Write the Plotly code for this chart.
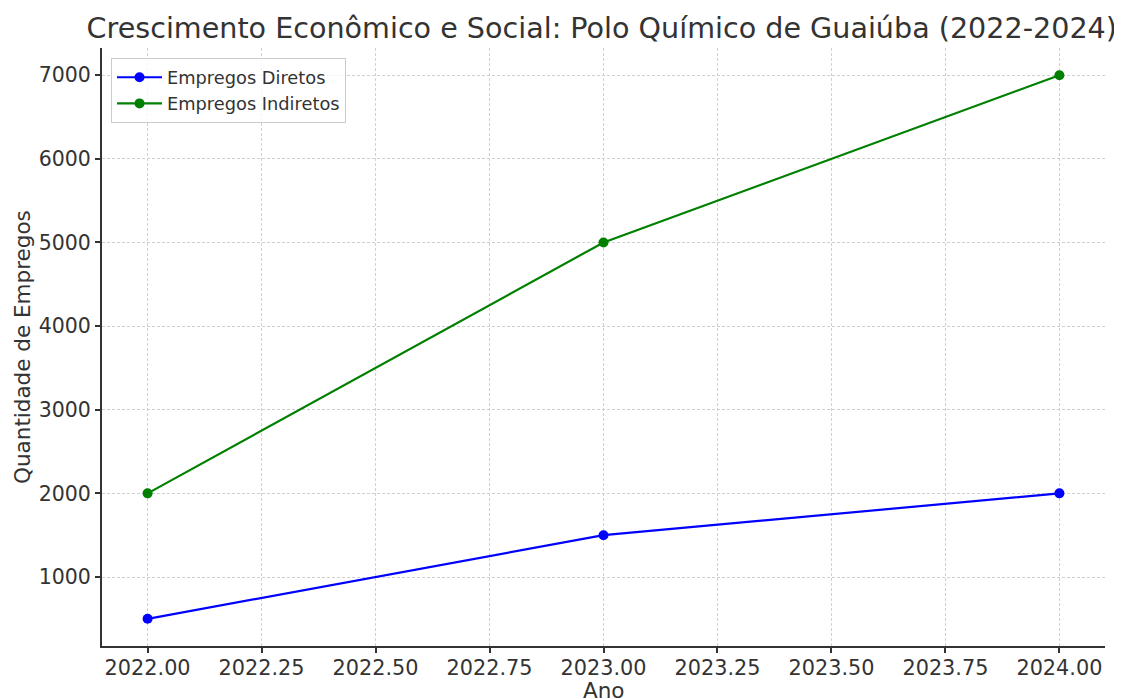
import plotly.graph_objects as go

anos = [2022, 2023, 2024]
empregos_diretos = [500, 1500, 2000]
empregos_indiretos = [2000, 5000, 7000]
x_ticks = [2022.0, 2022.25, 2022.5, 2022.75, 2023.0, 2023.25, 2023.5, 2023.75, 2024.0]
y_ticks = [1000, 2000, 3000, 4000, 5000, 6000, 7000]

FONT = "DejaVu Sans"
TXT = "#333333"
GRID = "#d0d0d0"

fig = go.Figure()
fig.add_trace(go.Scatter(x=anos, y=empregos_diretos, mode="lines+markers", name="Empregos Diretos",
                         line=dict(color="blue", width=2.2), marker=dict(size=10, color="blue")))
fig.add_trace(go.Scatter(x=anos, y=empregos_indiretos, mode="lines+markers", name="Empregos Indiretos",
                         line=dict(color="green", width=2.2), marker=dict(size=10, color="green")))

fig.update_layout(
    width=1114, height=691,
    margin=dict(l=94, r=17, t=40, b=53, autoexpand=False),
    paper_bgcolor="white", plot_bgcolor="white",
    font=dict(family=FONT, color=TXT),
    title=dict(text="Crescimento Econômico e Social: Polo Químico de Guaiúba (2022-2024)",
               x=0.5330, xanchor="center", y=0.9711, yanchor="middle",
               font=dict(size=28.6, color=TXT, family=FONT)),
    legend=dict(x=0.009, y=0.983, xanchor="left", yanchor="top",
                bgcolor="rgba(255,255,255,0.8)", bordercolor="#cccccc", borderwidth=1,
                itemwidth=45,
                font=dict(size=17.8, color=TXT, family=FONT)),
    showlegend=True,
)
fig.update_xaxes(
    range=[2021.9, 2024.1], tickvals=x_ticks, ticktext=[f"{v:.2f}" for v in x_ticks],
    showgrid=True, gridcolor=GRID, griddash="3px,2px", gridwidth=1,
    showline=True, linecolor="#333333", linewidth=2, mirror=False,
    ticks="outside", ticklen=5, tickcolor="#333333", tickwidth=1.5, ticklabelstandoff=-3,
    tickfont=dict(size=20.8, color=TXT), zeroline=False, automargin=False,
)
fig.update_yaxes(
    range=[175, 7325], tickvals=y_ticks,
    showgrid=True, gridcolor=GRID, griddash="3px,2px", gridwidth=1,
    showline=True, linecolor="#333333", linewidth=2, mirror=False,
    ticks="outside", ticklen=5, tickcolor="#333333", tickwidth=1.5,
    tickfont=dict(size=20.5, color=TXT), zeroline=False, automargin=False,
)
fig.add_annotation(text="Ano", xref="paper", yref="paper", x=0.5, y=-0.0736,
                   xanchor="center", yanchor="middle", showarrow=False,
                   font=dict(size=21.5, color=TXT, family=FONT))
fig.add_annotation(text="Quantidade de Empregos", xref="paper", yref="paper", x=-0.0798, y=0.5,
                   xanchor="center", yanchor="middle", showarrow=False, textangle=-90,
                   font=dict(size=21.5, color=TXT, family=FONT))

fig.write_html("out.html")
